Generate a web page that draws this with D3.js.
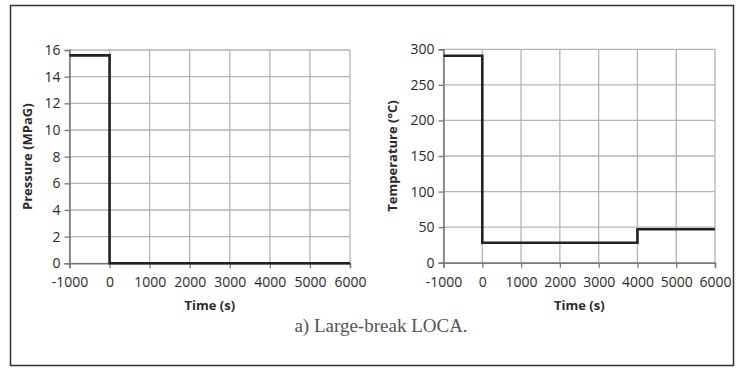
<!DOCTYPE html>
<html>
<head>
<meta charset="utf-8">
<script src="https://cdn.jsdelivr.net/npm/d3@7"></script>
<style>
  body { margin: 0; background: #fff; }
  svg text { font-family: "Open Sans", "DejaVu Sans", sans-serif; fill: #2a2a2a; }
</style>
</head>
<body>
<svg id="chart" width="743" height="368"></svg>
<script>
"use strict";

// step series
var pressureTime = [-1000, 0, 0, 6000];
var pressureValue = [15.6, 15.6, 0, 0];
var tempTime = [-1000, 0, 0, 4000, 4000, 6000];
var tempValue = [291, 291, 28, 28, 47, 47];

var timeTicks = [-1000, 0, 1000, 2000, 3000, 4000, 5000, 6000];
var pressureTicks = [0, 2, 4, 6, 8, 10, 12, 14, 16];
var tempTicks = [0, 50, 100, 150, 200, 250, 300];

var svg = d3.select("#chart");

svg.append("rect")
    .attr("x", 10.5).attr("y", 5.5)
    .attr("width", 723).attr("height", 360)
    .attr("fill", "none").attr("stroke", "#333").attr("stroke-width", 1.5);

// plain hyphen for negatives, like the original
var fmt = function(d) { return String(d); };

function drawPanel(opts)
{
    var x = d3.scaleLinear().domain([-1000, 6000]).range([opts.left, opts.right]);
    var y = d3.scaleLinear().domain(opts.yDomain).range([opts.bottom, opts.top]);
    var g = svg.append("g");

    // grid
    g.selectAll(".vgrid").data(timeTicks).enter().append("line")
        .attr("x1", function(d) { return x(d); }).attr("x2", function(d) { return x(d); })
        .attr("y1", opts.top).attr("y2", opts.bottom)
        .attr("stroke", "#b4b4b4").attr("stroke-width", 1.3);
    g.selectAll(".hgrid").data(opts.yTicks).enter().append("line")
        .attr("x1", opts.left).attr("x2", opts.right)
        .attr("y1", function(d) { return y(d); }).attr("y2", function(d) { return y(d); })
        .attr("stroke", "#b4b4b4").attr("stroke-width", 1.3);

    // axes
    var xAxis = d3.axisBottom(x).tickValues(timeTicks).tickSize(5).tickPadding(9)
        .tickFormat(fmt);
    var xg = g.append("g").attr("transform", "translate(0," + opts.bottom + ")").call(xAxis);
    var yAxis = d3.axisLeft(y).tickValues(opts.yTicks).tickSize(5).tickPadding(4)
        .tickFormat(fmt);
    var yg = g.append("g").attr("transform", "translate(" + opts.left + ",0)").call(yAxis);
    [xg, yg].forEach(function(a) {
        a.select(".domain").attr("stroke", "#777").attr("stroke-width", 1.5);
        a.selectAll(".tick line").attr("stroke", "#777").attr("stroke-width", 1.3);
        a.selectAll("text").style("font-size", "14px").attr("fill", "#2a2a2a");
    });

    // data line
    var line = d3.line()
        .x(function(d) { return x(d[0]); })
        .y(function(d) { return y(d[1]); });
    var pts = d3.zip(opts.xs, opts.ys);
    g.append("path").datum(pts).attr("d", line)
        .attr("fill", "none").attr("stroke", "#222").attr("stroke-width", 2.6);

    g.append("text")
        .attr("x", (opts.left + opts.right) / 2).attr("y", opts.bottom + 47)
        .attr("text-anchor", "middle").style("font-size", "13px").style("font-weight", "bold")
        .text("Time (s)");
    g.append("text")
        .attr("transform", "translate(" + opts.labelX + "," + ((opts.top + opts.bottom) / 2) + ") rotate(-90)")
        .attr("text-anchor", "middle").style("font-size", "13px").style("font-weight", "bold")
        .text(opts.yTitle);
}

drawPanel({
    left: 69.5, right: 350, top: 50, bottom: 263.3,
    yDomain: [0, 16], yTicks: pressureTicks,
    xs: pressureTime, ys: pressureValue,
    yTitle: "Pressure (MPaG)", labelX: 32
});

drawPanel({
    left: 443.5, right: 715, top: 49.3, bottom: 262.7,
    yDomain: [0, 300], yTicks: tempTicks,
    xs: tempTime, ys: tempValue,
    yTitle: "Temperature (°C)", labelX: 397
});

svg.append("text")
    .attr("x", 381).attr("y", 332)
    .attr("text-anchor", "middle")
    .style("font-family", "'Liberation Serif', 'DejaVu Serif', serif")
    .style("font-size", "19px").style("fill", "#555")
    .text("a) Large-break LOCA.");
</script>
</body>
</html>
